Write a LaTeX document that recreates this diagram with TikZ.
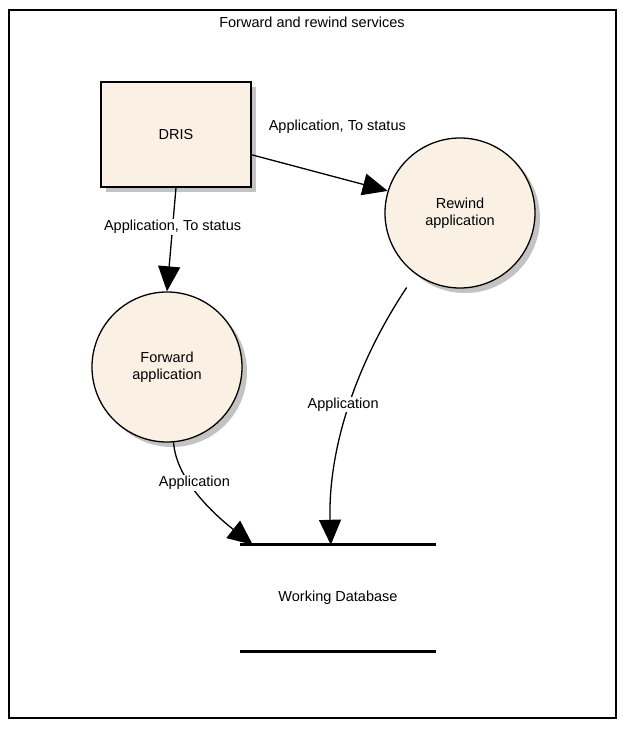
\documentclass[tikz,border=0pt]{standalone}
\usepackage{fontspec}
\setmainfont{Liberation Sans}
\usetikzlibrary{arrows.meta,shadows,calc}

\definecolor{procfill}{RGB}{250,241,228}
\definecolor{shadowgray}{RGB}{195,195,195}

\tikzset{
  flow/.style={line width=1.3pt,-{Triangle[length=25pt,width=22pt]}},
  flowlabel/.style={fill=white,inner sep=1pt},
  shade/.style={drop shadow={shadow xshift=5pt,shadow yshift=-5pt,fill=shadowgray,opacity=1}},
  extbox/.style={draw,line width=1.3pt,fill=procfill,shade,minimum width=150pt,minimum height=105pt},
  process/.style={draw,line width=1.3pt,circle,fill=procfill,shade,minimum size=150pt,align=center,inner sep=0pt},
  store/.style={minimum width=196pt,minimum height=106pt,inner sep=0pt}
}

\begin{document}
\begin{tikzpicture}[x=1pt,y=-1pt,font=\fontsize{14.5}{16.5}\selectfont]
\useasboundingbox (0,0) rectangle (632,734);
\draw[line width=1.2pt,fill=white] (9,10) rectangle (616,718);
\node (title) at (312,22) {Forward and rewind services};

\node[extbox] (dris) at (176,134.5) {DRIS};
\node[process] (rewind) at (460,213) {Rewind\\application};
\node[process] (fwd) at (167,367) {Forward\\application};
\node[store] (db) at (338,598) {Working Database};
\draw[line width=3pt] (db.north west) -- (db.north east);
\draw[line width=3pt] (db.south west) -- (db.south east);
\coordinate (dbin1) at ($(db.north west)+(13,0)$);
\coordinate (dbin2) at ($(db.north west)+(91,0)$);

% flows
\draw[flow] (dris.south) -- (fwd.north)
  node[flowlabel,pos=0.38] {Application, To status};
\draw[flow] (dris.-15) -- (rewind.163)
  node[pos=0.63,above=40pt] {Application, To status};
\draw[flow] (fwd.-85) .. controls (176,480) and (215,515) .. (dbin1)
  node[flowlabel,pos=0.37,xshift=5pt] {Application};
\draw[flow,shorten <=16pt] (rewind.-126) .. controls (355,365) and (328,450) .. (dbin2)
  node[flowlabel,pos=0.48,xshift=-8pt,yshift=-2pt] {Application};
\end{tikzpicture}
\end{document}
